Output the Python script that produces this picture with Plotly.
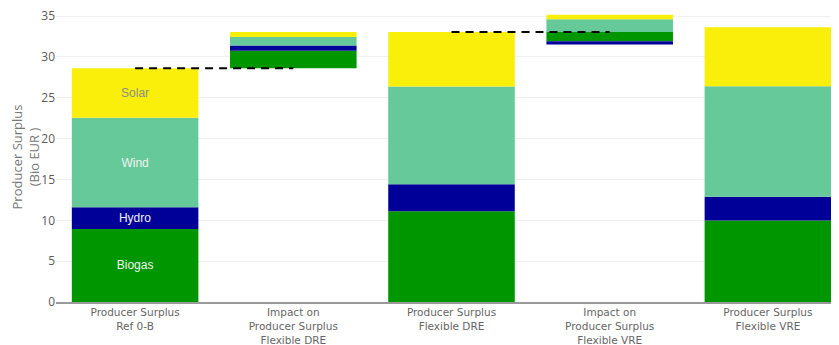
import plotly.graph_objects as go

# ---- data ----
categories = [
    "Producer Surplus<br>Ref 0-B",
    "Impact on<br>Producer Surplus<br>Flexible DRE",
    "Producer Surplus<br>Flexible DRE",
    "Impact on<br>Producer Surplus<br>Flexible VRE",
    "Producer Surplus<br>Flexible VRE",
]
is_impact = [False, True, False, True, False]

series_names = ["Biogas", "Hydro", "Wind", "Solar"]
biogas = [8.95, 2.15, 11.10, -1.12, 9.98]
hydro = [2.65, 0.65, 3.30, -0.41, 2.89]
wind = [10.95, 1.03, 11.98, 1.56, 13.54]
solar = [6.05, 0.62, 6.67, 0.55, 7.22]

series_values = [biogas, hydro, wind, solar]
series_colors = ["#009600", "#000099", "#66C999", "#FAEF0A"]
label_colors = ["#F2F2F2", "#F2F2F2", "#F2F2F2", "#8C8C8C"]

# ---- compute stacking bases (waterfall-like) ----
n = len(categories)
bases = [[0.0] * n for _ in series_values]
totals = []
for i in range(n):
    start = totals[i - 1] if is_impact[i] else 0.0
    pos = start
    neg = start
    for s, vals in enumerate(series_values):
        v = vals[i]
        if v >= 0:
            bases[s][i] = pos
            pos += v
        else:
            bases[s][i] = neg
            neg += v
    totals.append(pos + neg - start)

fig = go.Figure()
for s, name in enumerate(series_names):
    fig.add_trace(go.Bar(
        x=categories,
        y=series_values[s],
        base=bases[s],
        name=name,
        marker=dict(color=series_colors[s], line=dict(width=0)),
        text=[name if i == 0 else "" for i in range(n)],
        textposition="inside",
        insidetextanchor="middle",
        textfont=dict(family="Liberation Sans, Arial", size=12, color=label_colors[s]),
        hoverinfo="y+name",
    ))

# dashed connectors from totals to following impact bars
for i in range(n - 1):
    if is_impact[i + 1]:
        fig.add_trace(go.Scatter(
            x=[categories[i], categories[i + 1]],
            y=[totals[i], totals[i]],
            mode="lines",
            line=dict(color="black", width=2, dash="8px,6px"),
            hoverinfo="skip",
        ))

fig.update_layout(
    width=839,
    height=345,
    barmode="overlay",
    bargap=0.2,
    showlegend=False,
    plot_bgcolor="white",
    paper_bgcolor="white",
    margin=dict(l=48, r=0, t=4, b=51),
    font=dict(family="Open Sans", color="#666"),
)
fig.update_xaxes(
    showline=True,
    linecolor="#999",
    linewidth=1.5,
    showgrid=False,
    tickfont=dict(family="DejaVu Sans", size=10.5, color="#666"),
)
fig.update_yaxes(
    range=[0, 35.5],
    dtick=5,
    showgrid=True,
    gridcolor="#f0f0f0",
    zeroline=False,
    showline=False,
    ticklabeloverflow="allow",
    tickfont=dict(size=12, color="#5a5a5a"),
    title=dict(text="Producer Surplus<br>(Bio EUR )", font=dict(size=13, color="#777"), standoff=0),
)

fig.write_html("out.html")
